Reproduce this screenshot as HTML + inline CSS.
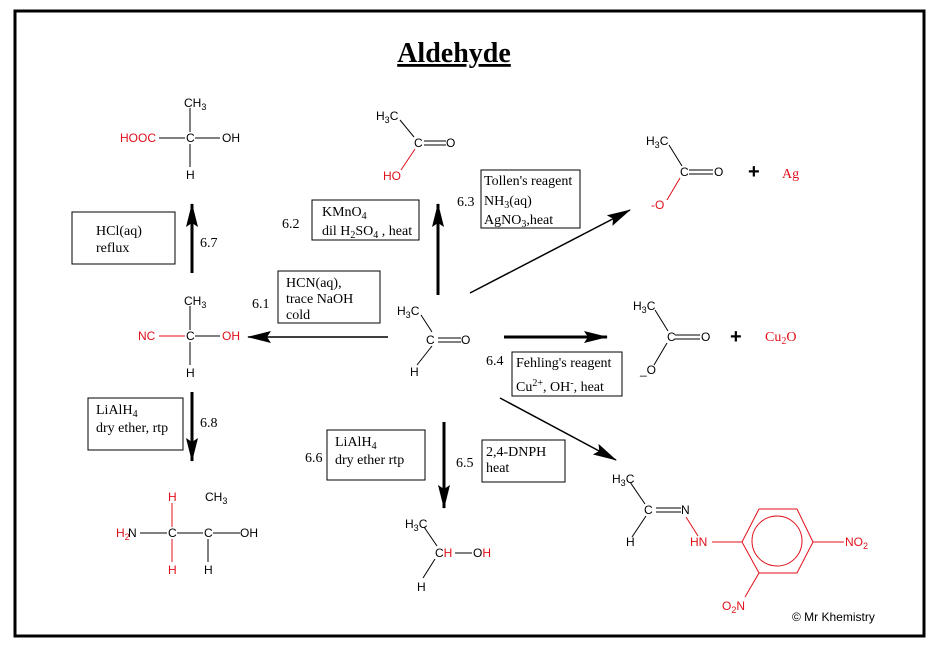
<!DOCTYPE html>
<html><head><meta charset="utf-8"><style>
html,body{margin:0;padding:0;background:#fff;}
svg{display:block;}
.s{font-family:"Liberation Sans",sans-serif;font-size:12px;}
.t{font-family:"Liberation Serif",serif;font-size:14px;}
.r{fill:#e0101a;}
</style></head><body>
<svg width="938" height="647" viewBox="0 0 938 647" xmlns="http://www.w3.org/2000/svg">
<defs><marker id="ah" markerWidth="10" markerHeight="8" refX="9" refY="4" orient="auto" markerUnits="userSpaceOnUse"><path d="M0,0 L10,4 L0,8 Z" fill="#000"/></marker>
<marker id="ahb" markerWidth="24" markerHeight="12" refX="23" refY="6" orient="auto" markerUnits="userSpaceOnUse"><path d="M0,0 L24,6 L0,12 L4,6 Z" fill="#000"/></marker></defs>
<rect x="15" y="11" width="909" height="625" fill="none" stroke="#000" stroke-width="3"/>
<text x="454" y="62" text-anchor="middle" font-family="Liberation Serif,serif" font-weight="bold" font-size="28" text-decoration="underline">Aldehyde</text>
<line x1="454" y1="66" x2="454" y2="66"/>
<g stroke="#000" stroke-width="1" fill="none">
<!-- top-left molecule -->
<line x1="190" y1="108" x2="190" y2="132"/><line x1="159" y1="138" x2="185" y2="138"/><line x1="195" y1="138" x2="220" y2="138"/><line x1="190" y1="144" x2="190" y2="167"/>
<!-- NC molecule -->
<line x1="190" y1="306" x2="190" y2="330"/><line x1="159" y1="336" x2="185" y2="336" stroke="#e0101a"/><line x1="195" y1="336" x2="220" y2="336"/><line x1="190" y1="342" x2="190" y2="365"/>
<!-- amine -->
<line x1="172" y1="503" x2="172" y2="527" stroke="#e0101a"/><line x1="172" y1="539" x2="172" y2="562" stroke="#e0101a"/><line x1="140" y1="533" x2="167" y2="533"/><line x1="177" y1="533" x2="203" y2="533"/><line x1="213" y1="533" x2="240" y2="533"/><line x1="208" y1="539" x2="208" y2="562"/>
<!-- acetic acid -->
<line x1="400" y1="120" x2="414" y2="137"/><line x1="424" y1="141" x2="446" y2="141"/><line x1="424" y1="145" x2="446" y2="145"/><line x1="415" y1="149" x2="401" y2="170" stroke="#e0101a"/>
<!-- aldehyde -->
<line x1="421" y1="315" x2="432" y2="332"/><line x1="438" y1="338" x2="461" y2="338"/><line x1="438" y1="342" x2="461" y2="342"/><line x1="432" y1="346" x2="417" y2="365"/>
<!-- carboxylate top right -->
<line x1="669" y1="145" x2="682" y2="166"/><line x1="689" y1="170" x2="713" y2="170"/><line x1="689" y1="174" x2="713" y2="174"/><line x1="680" y1="178" x2="667" y2="200" stroke="#e0101a"/>
<!-- carboxylate mid -->
<line x1="655" y1="310" x2="668" y2="331"/><line x1="675" y1="335" x2="700" y2="335"/><line x1="675" y1="339" x2="700" y2="339"/><line x1="667" y1="343" x2="654" y2="365"/>
<!-- ethanol -->
<line x1="424" y1="527" x2="437" y2="546"/><line x1="455" y1="553" x2="472" y2="553"/><line x1="435" y1="559" x2="423" y2="578"/>
<!-- hydrazone -->
<line x1="630" y1="482" x2="645" y2="504"/><line x1="656" y1="508" x2="681" y2="508"/><line x1="656" y1="512" x2="681" y2="512"/><line x1="646" y1="516" x2="632" y2="537"/>
<line x1="686" y1="517" x2="698" y2="536" stroke="#e0101a"/>
<g stroke="#e0101a"><line x1="712" y1="542" x2="742" y2="542"/><polygon points="742,542 759,509 797,509 813,542 797,573 759,573"/><circle cx="777" cy="541" r="25"/><line x1="813" y1="542" x2="844" y2="542"/><line x1="759" y1="573" x2="745" y2="597"/></g>
<!-- boxes -->
<rect x="72" y="212" width="103" height="52"/><rect x="312" y="200" width="107" height="40"/><rect x="278" y="271" width="102" height="52"/><rect x="481" y="170" width="99" height="58"/><rect x="512" y="352" width="110" height="44"/><rect x="482" y="440" width="83" height="42"/><rect x="327" y="430" width="98" height="50"/><rect x="88" y="398" width="95" height="52"/>
<!-- arrows -->
<line x1="192" y1="273" x2="192" y2="204" stroke-width="3" marker-end="url(#ahb)"/>
<line x1="438" y1="295" x2="438" y2="204" stroke-width="3" marker-end="url(#ahb)"/>
<line x1="388" y1="337" x2="248" y2="337" stroke-width="1.5" marker-end="url(#ahb)"/>
<line x1="470" y1="293" x2="630" y2="210" stroke-width="1.5" marker-end="url(#ahb)"/>
<line x1="504" y1="337" x2="607" y2="337" stroke-width="3" marker-end="url(#ahb)"/>
<line x1="500" y1="398" x2="616" y2="460" stroke-width="1.5" marker-end="url(#ahb)"/>
<line x1="444" y1="422" x2="444" y2="508" stroke-width="3" marker-end="url(#ahb)"/>
<line x1="192" y1="392" x2="192" y2="461" stroke-width="3" marker-end="url(#ahb)"/>
</g>
<g class="s">
<text x="184" y="107">CH<tspan font-size="9" dy="3">3</tspan></text>
<text x="120" y="142" class="r">HOOC</text><text x="186" y="142">C</text><text x="222" y="142">OH</text><text x="186" y="179">H</text>
<text x="184" y="305">CH<tspan font-size="9" dy="3">3</tspan></text>
<text x="138" y="340" class="r">NC</text><text x="186" y="340">C</text><text x="222" y="340" class="r">OH</text><text x="186" y="377">H</text>
<text x="168" y="501" class="r">H</text><text x="205" y="501">CH<tspan font-size="9" dy="3">3</tspan></text>
<text x="116" y="537" class="r">H<tspan font-size="9" dy="3">2</tspan></text><text x="128" y="537">N</text><text x="168" y="537">C</text><text x="204" y="537">C</text><text x="240" y="537">OH</text>
<text x="168" y="574" class="r">H</text><text x="204" y="574">H</text>
<text x="376" y="120">H<tspan font-size="9" dy="3">3</tspan><tspan dy="-3">C</tspan></text>
<text x="414" y="147">C</text><text x="446" y="147">O</text><text x="383" y="180" class="r">HO</text>
<text x="397" y="315">H<tspan font-size="9" dy="3">3</tspan><tspan dy="-3">C</tspan></text>
<text x="426" y="344">C</text><text x="461" y="344">O</text><text x="410" y="376">H</text>
<text x="646" y="145">H<tspan font-size="9" dy="3">3</tspan><tspan dy="-3">C</tspan></text>
<text x="680" y="176">C</text><text x="714" y="176">O</text><text x="651" y="209" class="r">-O</text>
<text x="633" y="310">H<tspan font-size="9" dy="3">3</tspan><tspan dy="-3">C</tspan></text>
<text x="667" y="341">C</text><text x="701" y="341">O</text><text x="640" y="374">_O</text>
<text x="405" y="528">H<tspan font-size="9" dy="3">3</tspan><tspan dy="-3">C</tspan></text>
<text x="435" y="557">C<tspan class="r">H</tspan></text><text x="473" y="557">O<tspan class="r">H</tspan></text><text x="417" y="591">H</text>
<text x="612" y="483">H<tspan font-size="9" dy="3">3</tspan><tspan dy="-3">C</tspan></text>
<text x="644" y="514">C</text><text x="681" y="514">N</text><text x="626" y="546">H</text>
<text x="690" y="546" class="r">HN</text><text x="845" y="546" class="r">NO<tspan font-size="9" dy="3">2</tspan></text>
<text x="722" y="610" class="r">O<tspan font-size="9" dy="3">2</tspan><tspan dy="-3">N</tspan></text>
<text x="792" y="621" font-size="12">© Mr Khemistry</text>
<text x="748" y="178" font-size="20" font-weight="bold">+</text><text x="730" y="343" font-size="20" font-weight="bold">+</text>
</g>
<g class="t">
<text x="782" y="178" class="r">Ag</text><text x="765" y="341" class="r">Cu<tspan font-size="10" dy="3">2</tspan><tspan dy="-3">O</tspan></text>
<text x="96" y="235">HCl(aq)</text><text x="96" y="252">reflux</text><text x="200" y="247">6.7</text>
<text x="322" y="216">KMnO<tspan font-size="10" dy="3">4</tspan></text><text x="322" y="235">dil H<tspan font-size="10" dy="3">2</tspan><tspan dy="-3">SO</tspan><tspan font-size="10" dy="3">4</tspan><tspan dy="-3"> , heat</tspan></text><text x="282" y="228">6.2</text>
<text x="286" y="287">HCN(aq),</text><text x="286" y="303">trace NaOH</text><text x="286" y="319">cold</text><text x="252" y="308">6.1</text>
<text x="457" y="206">6.3</text>
<text x="484" y="185">Tollen's reagent</text><text x="484" y="205">NH<tspan font-size="10" dy="3">3</tspan><tspan dy="-3">(aq)</tspan></text><text x="484" y="224">AgNO<tspan font-size="10" dy="3">3</tspan><tspan dy="-3">,heat</tspan></text>
<text x="486" y="365">6.4</text><text x="516" y="367">Fehling's reagent</text><text x="516" y="391">Cu<tspan font-size="10" dy="-5">2+</tspan><tspan dy="5">, OH</tspan><tspan font-size="10" dy="-5">-</tspan><tspan dy="5">, heat</tspan></text>
<text x="486" y="456">2,4-DNPH</text><text x="486" y="472">heat</text><text x="456" y="467">6.5</text>
<text x="335" y="446">LiAlH<tspan font-size="10" dy="3">4</tspan></text><text x="335" y="464">dry ether rtp</text><text x="305" y="462">6.6</text>
<text x="96" y="414">LiAlH<tspan font-size="10" dy="3">4</tspan></text><text x="96" y="432">dry ether, rtp</text><text x="200" y="427">6.8</text>
</g>
</svg>
</body></html>
